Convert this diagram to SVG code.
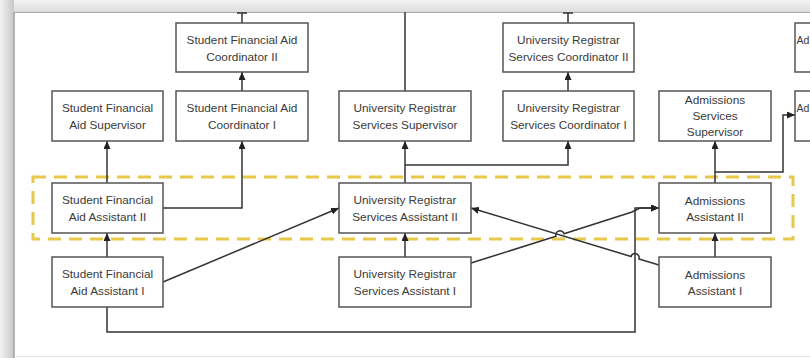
<svg xmlns="http://www.w3.org/2000/svg" width="810" height="358" viewBox="0 0 810 358">
<defs>
<marker id="arr" markerWidth="8" markerHeight="7" refX="8" refY="3.5" orient="auto" markerUnits="userSpaceOnUse">
<path d="M0,0 L8,3.5 L0,7 z" fill="#222"/>
</marker>
<linearGradient id="topg" x1="0" y1="0" x2="0" y2="1">
<stop offset="0" stop-color="#f4f4f4"/><stop offset="1" stop-color="#dcdcdc"/>
</linearGradient>
<linearGradient id="leftg" x1="0" y1="0" x2="1" y2="0">
<stop offset="0" stop-color="#f2f2f2"/><stop offset="1" stop-color="#c8c8c8"/>
</linearGradient>
</defs>
<style>
.box{fill:#fff;stroke:#555;stroke-width:1.5}
.t{font-family:"Liberation Sans",Arial,sans-serif;font-size:11.8px;fill:#3a3a3a;text-anchor:middle}
.tl{font-family:"Liberation Sans",Arial,sans-serif;font-size:10.5px;fill:#3a3a3a;text-anchor:start}
.c{fill:none;stroke:#333;stroke-width:1.5}
.hl{fill:none;stroke:#E8C84A;stroke-width:3;stroke-dasharray:13 8}
</style>
<rect x="0" y="0" width="810" height="358" fill="#ffffff"/>
<rect x="0" y="0" width="810" height="12" fill="url(#topg)"/>
<rect x="0" y="0" width="14" height="358" fill="url(#leftg)"/>
<line x1="14" y1="12.5" x2="810" y2="12.5" stroke="#a8a8a8" stroke-width="1"/>
<line x1="14" y1="12" x2="14" y2="358" stroke="#a0a0a0" stroke-width="1.5"/>
<line x1="14" y1="356.5" x2="810" y2="356.5" stroke="#e2e2e2" stroke-width="1"/>

<rect class="hl" x="33" y="177" width="760" height="62"/>

<g id="connectors">
<path class="c" d="M242,23 V13"/><path class="c" d="M237,13 H247"/>
<path class="c" d="M242,91 V72" marker-end="url(#arr)"/>
<path class="c" d="M107,183 V141" marker-end="url(#arr)"/>
<path class="c" d="M163,208 H242 V141" marker-end="url(#arr)"/>
<path class="c" d="M107,257 V233" marker-end="url(#arr)"/>
<path class="c" d="M163,282 L339,208" marker-end="url(#arr)"/>
<path class="c" d="M107,307 V332 H635 V208 H659" marker-end="url(#arr)"/>
<path class="c" d="M405,257 V233" marker-end="url(#arr)"/>
<path class="c" d="M405,183 V141" marker-end="url(#arr)"/>
<path class="c" d="M405,165 H568 V141" marker-end="url(#arr)"/>
<path class="c" d="M405,91 V12"/>
<path class="c" d="M568,91 V72" marker-end="url(#arr)"/>
<path class="c" d="M568,23 V13"/><path class="c" d="M563,13 H573"/>
<path class="c" d="M471,263 L556,236.3 A4,4 0 0 1 564,233.7 L632,212 L640,208 H659" marker-end="url(#arr)"/>
<path class="c" d="M659,265 L639,259 A4,4 0 0 0 631,256.5 L471,208" marker-end="url(#arr)"/>
<path class="c" d="M715,257 V233" marker-end="url(#arr)"/>
<path class="c" d="M715,183 V141" marker-end="url(#arr)"/>
<path class="c" d="M715,172 H783 V115 H795" marker-end="url(#arr)"/>
</g>

<g id="sfa-coord-2"><rect class="box" x="176" y="23" width="132" height="49"/><text class="t" x="242" y="44">Student Financial Aid</text><text class="t" x="242" y="61">Coordinator II</text></g>
<g id="sfa-supervisor"><rect class="box" x="52" y="91" width="111" height="50"/><text class="t" x="107.5" y="112">Student Financial</text><text class="t" x="107.5" y="129">Aid Supervisor</text></g>
<g id="sfa-coord-1"><rect class="box" x="176" y="91" width="132" height="50"/><text class="t" x="242" y="112">Student Financial Aid</text><text class="t" x="242" y="129">Coordinator I</text></g>
<g id="urs-supervisor"><rect class="box" x="339" y="91" width="132" height="50"/><text class="t" x="405" y="112">University Registrar</text><text class="t" x="405" y="129">Services Supervisor</text></g>
<g id="urs-coord-2"><rect class="box" x="503" y="23" width="131" height="49"/><text class="t" x="568.5" y="44">University Registrar</text><text class="t" x="568.5" y="61">Services Coordinator II</text></g>
<g id="urs-coord-1"><rect class="box" x="503" y="91" width="131" height="50"/><text class="t" x="568.5" y="112">University Registrar</text><text class="t" x="568.5" y="129">Services Coordinator I</text></g>
<g id="adm-supervisor"><rect class="box" x="659" y="91" width="112" height="50"/><text class="t" x="715" y="104">Admissions</text><text class="t" x="715" y="120">Services</text><text class="t" x="715" y="136">Supervisor</text></g>
<g id="right-top"><rect class="box" x="795" y="23" width="30" height="49"/><text class="tl" x="796.5" y="44">Ad</text></g>
<g id="right-mid"><rect class="box" x="795" y="91" width="30" height="50"/><text class="tl" x="796.5" y="112">Ad</text></g>
<g id="sfa-assist-2"><rect class="box" x="52" y="183" width="111" height="50"/><text class="t" x="107.5" y="204">Student Financial</text><text class="t" x="107.5" y="221">Aid Assistant II</text></g>
<g id="sfa-assist-1"><rect class="box" x="52" y="257" width="111" height="50"/><text class="t" x="107.5" y="278">Student Financial</text><text class="t" x="107.5" y="295">Aid Assistant I</text></g>
<g id="urs-assist-2"><rect class="box" x="339" y="183" width="132" height="50"/><text class="t" x="405" y="204">University Registrar</text><text class="t" x="405" y="221">Services Assistant II</text></g>
<g id="urs-assist-1"><rect class="box" x="339" y="257" width="132" height="50"/><text class="t" x="405" y="278">University Registrar</text><text class="t" x="405" y="295">Services Assistant I</text></g>
<g id="adm-assist-2"><rect class="box" x="659" y="183" width="112" height="50"/><text class="t" x="715" y="205">Admissions</text><text class="t" x="715" y="221">Assistant II</text></g>
<g id="adm-assist-1"><rect class="box" x="659" y="257" width="112" height="50"/><text class="t" x="715" y="279">Admissions</text><text class="t" x="715" y="295">Assistant I</text></g>
</svg>
